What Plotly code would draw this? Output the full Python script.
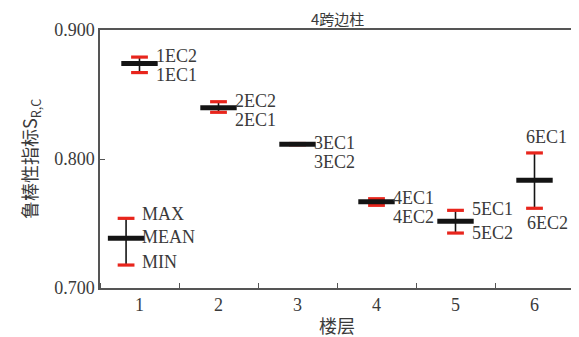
import plotly.graph_objects as go

# ---- data ----
floors = [1, 2, 3, 4, 5, 6]
s_max = [0.879, 0.8444, 0.8120, 0.7692, 0.7602, 0.8047]
s_mean = [0.874, 0.8398, 0.8115, 0.7669, 0.7517, 0.7835]
s_min = [0.867, 0.8362, 0.8110, 0.7641, 0.7426, 0.7618]
label_top = ["1EC2", "2EC2", "3EC1", "4EC1", "5EC1", "6EC1"]
label_bottom = ["1EC1", "2EC1", "3EC2", "4EC2", "5EC2", "6EC2"]
label_mode = ["right", "right", "right", "right", "right", "vertical"]

legend_x = [0.83]
legend_max = [0.754]
legend_mean = [0.7385]
legend_min = [0.7178]
legend_labels = ["MAX", "MEAN", "MIN"]

y_ticks = [0.700, 0.800, 0.900]
y_range = [0.700, 0.900]

title_text = "4跨边柱"
x_title = "楼层"
y_title = "鲁棒性指标S<sub>R,C</sub>"

# ---- style ----
RED = "#e8251c"
BLACK = "#141414"
TXT = "#3a3a3a"
SERIF = "Liberation Serif, Times New Roman, serif"
CJK = "Noto Sans CJK SC"
# page body has an 8px margin; compensate
W, H = 571, 329
M = dict(l=92, r=3, t=22, b=49)
plot_h = H - M["t"] - M["b"]
px_per_unit = plot_h / (y_range[1] - y_range[0])

fig = go.Figure()


def add_marks(xs, mx, mn, mean):
    fig.add_trace(go.Scatter(
        x=xs, y=mean, mode="markers",
        marker=dict(size=1, color=BLACK, opacity=0),
        error_y=dict(type="data", symmetric=False,
                     array=[a - b for a, b in zip(mx, mean)],
                     arrayminus=[b - c for b, c in zip(mean, mn)],
                     color=BLACK, thickness=1.6, width=0),
        showlegend=False, hoverinfo="skip"))
    fig.add_trace(go.Scatter(
        x=xs + xs, y=mx + mn, mode="markers",
        marker=dict(symbol="line-ew", size=12, line=dict(color=RED, width=3.2)),
        showlegend=False, hoverinfo="skip"))
    fig.add_trace(go.Scatter(
        x=xs, y=mean, mode="markers",
        marker=dict(symbol="line-ew", size=26, line=dict(color=BLACK, width=5)),
        showlegend=False, hoverinfo="skip"))


add_marks(floors, s_max, s_min, s_mean)
add_marks(legend_x, legend_max, legend_min, legend_mean)

ann = []
font_lbl = dict(family=SERIF, size=18, color=TXT)
for f, mx, mn, t, b, mode in zip(floors, s_max, s_min, label_top, label_bottom, label_mode):
    if mode == "right":
        gap = (mx - mn) * px_per_unit
        extra = max(0.0, 18 - gap)
        ann.append(dict(x=f, y=mx, text=t, xanchor="left", yanchor="middle",
                        xshift=14, yshift=1, showarrow=False, font=font_lbl))
        ann.append(dict(x=f, y=mn, text=b, xanchor="left", yanchor="middle",
                        xshift=14, yshift=-extra, showarrow=False, font=font_lbl))
    else:
        ann.append(dict(x=f, y=mx, text=t, xanchor="center", yanchor="bottom",
                        xshift=12, yshift=4, showarrow=False, font=font_lbl))
        ann.append(dict(x=f, y=mn, text=b, xanchor="center", yanchor="top",
                        xshift=13, yshift=-3, showarrow=False, font=font_lbl))

for val, txt in zip([legend_max[0], legend_mean[0], legend_min[0]], legend_labels):
    ann.append(dict(x=legend_x[0], y=val, text=txt, xanchor="left", yanchor="middle",
                    xshift=14, yshift=4 if txt == "MAX" else (1 if txt == "MEAN" else 3),
                    showarrow=False, font=font_lbl))

ann.append(dict(x=0.5, y=1, xref="paper", yref="paper", text=title_text,
                xanchor="center", yanchor="bottom", yshift=0, showarrow=False,
                borderpad=0, font=dict(family=CJK, size=15, color=TXT)))
ann.append(dict(x=0, y=0.5, xref="paper", yref="paper", text=y_title,
                textangle=-90, xanchor="center", yanchor="middle", xshift=-70,
                showarrow=False, font=dict(family=CJK, size=18, color=TXT)))
ann.append(dict(x=0.5, y=0, xref="paper", yref="paper", text=x_title,
                xanchor="center", yanchor="top", yshift=-22, showarrow=False,
                font=dict(family=CJK, size=18, color=TXT)))

AXC = "#555555"
fig.update_layout(
    width=W, height=H, margin=M,
    paper_bgcolor="white", plot_bgcolor="white",
    annotations=ann, showlegend=False,
    xaxis=dict(range=[0.5, 6.5], tickvals=floors, ticktext=[str(f) for f in floors],
               ticks="", showgrid=False, zeroline=False,
               showline=True, linecolor=AXC, linewidth=1.5, mirror=True,
               tickfont=dict(family=SERIF, size=18, color=TXT),
               minor=dict(tick0=0.5, dtick=1, ticks="inside", ticklen=5,
                          tickcolor=AXC, tickwidth=1.2, showgrid=False)),
    yaxis=dict(range=y_range, tickvals=y_ticks, ticktext=[f"{v:.3f}" for v in y_ticks],
               ticks="inside", ticklen=5, tickcolor=AXC, tickwidth=1.2,
               showgrid=False, zeroline=False,
               showline=True, linecolor=AXC, linewidth=1.5, mirror=True,
               tickfont=dict(family=SERIF, size=18, color=TXT)),
)

fig.write_html("out.html")
